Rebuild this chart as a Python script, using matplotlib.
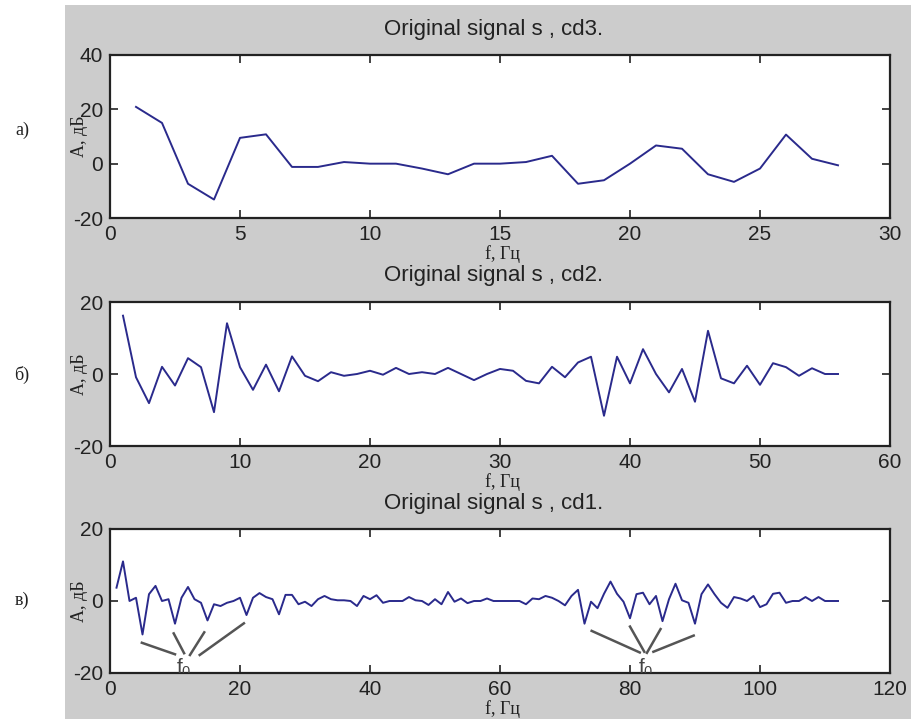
import numpy as np
import matplotlib
matplotlib.use("Agg")
import matplotlib.pyplot as plt
from matplotlib.patches import Rectangle

plt.rcParams['font.family'] = ['Liberation Sans', 'DejaVu Sans']
plt.rcParams['mathtext.fontset'] = 'custom'
plt.rcParams['mathtext.rm'] = 'Liberation Sans'
plt.rcParams['mathtext.default'] = 'regular'
plt.rcParams['axes.unicode_minus'] = False

# detail coefficients
cd3 = [20.9, 15.0, -7.4, -13.2, 9.5, 10.8, -1.2, -1.2, 0.6, 0.0,
       0.0, -1.8, -3.9, 0.0, 0.0, 0.6, 2.9, -7.4, -6.1, 0.0,
       6.7, 5.5, -3.9, -6.7, -1.8, 10.7, 1.8, -0.6]

cd2 = [16.2, -0.9, -8.1, 2.0, -3.2, 4.4, 1.9, -10.6, 14.1, 1.9,
       -4.4, 2.6, -4.8, 4.9, -0.5, -2.0, 0.5, -0.5, 0.0, 0.9,
       -0.2, 1.7, 0.0, 0.5, 0.0, 1.7, 0.0, -1.7, 0.0, 1.4,
       0.9, -1.9, -2.6, 2.0, -0.9, 3.2, 4.8, -11.6, 4.8, -2.6,
       6.9, 0.0, -5.1, 1.4, -7.7, 12.0, -1.2, -2.6, 2.3, -3.0,
       3.0, 1.9, -0.5, 1.6, 0.0, 0.0]

cd1 = [3.7, 11.0, 0.0, 0.9, -9.3, 1.9, 4.2, 0.0, 0.5, -6.3,
       0.9, 3.9, 0.5, -0.5, -5.4, -0.9, -1.4, -0.5, 0.0, 0.9,
       -3.9, 0.9, 2.2, 1.1, 0.5, -3.7, 1.7, 1.7, -0.9, -0.2,
       -1.4, 0.5, 1.4, 0.5, 0.2, 0.2, 0.0, -1.4, 1.4, 0.5,
       1.6, -0.5, 0.0, 0.0, 0.0, 1.1, 0.2, 0.0, -1.1, 0.5,
       -0.9, 2.5, -0.2, 0.7, -0.6, 0.0, 0.0, 0.7, 0.0, 0.0,
       0.0, 0.0, 0.0, -0.9, 0.7, 0.5, 1.4, 0.9, 0.0, -1.2,
       1.4, 3.1, -6.3, -0.2, -2.0, 2.0, 5.4, 2.0, -0.2, -4.8,
       1.9, 2.3, -0.9, 1.4, -5.6, 0.5, 4.8, 0.2, -0.5, -6.3,
       1.9, 4.6, 1.9, -0.5, -1.9, 1.1, 0.7, 0.0, 1.4, -1.7,
       -0.9, 2.0, 2.3, -0.5, 0.0, 0.0, 1.1, 0.0, 1.1, 0.0,
       0.0, 0.0]

titles = ['Original signal s , cd3.', 'Original signal s , cd2.', 'Original signal s , cd1.']
panel_tags = ['а)', 'б)', 'в)']
xlims = [30, 60, 120]
xsteps = [5, 10, 20]
ylims = [(-20, 40), (-20, 20), (-20, 20)]
yticks = [[-20, 0, 20, 40], [-20, 0, 20], [-20, 0, 20]]

# f0 pointer lines in panel 3: (x_start, y_start, x_end, y_end)
f0_left = [(4.9, -11.6, 10.0, -14.8), (9.8, -9.0, 11.4, -14.5),
           (14.5, -8.7, 12.3, -15.0), (20.6, -6.2, 13.8, -15.0)]
f0_right = [(74.1, -8.3, 81.5, -14.3), (80.0, -7.1, 82.2, -14.1),
            (84.7, -7.8, 82.6, -14.4), (89.8, -9.6, 83.6, -14.1)]
f0_text = [(11.3, -18.6), (82.4, -18.6)]

W, H = 912, 719
fig = plt.figure(figsize=(W / 100, H / 100), dpi=100, facecolor='white')
fig.patches.append(Rectangle((65 / W, 0), 1 - 65 / W, (H - 5) / H, transform=fig.transFigure,
                             facecolor='#cccccc', edgecolor='none', zorder=-10))

# axes boxes in pixels: top, bottom
boxes = [(55, 218), (302, 446), (529, 673)]
tag_y = [130, 375, 600]
data = [cd3, cd2, cd1]

for i, (top, bot) in enumerate(boxes):
    ax = fig.add_axes([110 / W, (H - bot) / H, 780 / W, (bot - top) / H])
    y = data[i]
    x = np.arange(1, len(y) + 1)
    ax.plot(x, y, color='#2a2a8c', lw=1.4)
    ax.set_xlim(0, xlims[i])
    ax.set_ylim(*ylims[i])
    ax.set_xticks(np.arange(0, xlims[i] + 1, xsteps[i]))
    ax.set_yticks(yticks[i])
    ax.tick_params(direction='in', length=6, width=1.2, top=True, right=True,
                   labelsize=15, colors='#222222', pad=5)
    for s in ax.spines.values():
        s.set_linewidth(1.6)
        s.set_color('#222222')
    ax.annotate(titles[i], xy=(0.5, 1), xycoords='axes fraction', xytext=(-6 * 0.72, 26 * 0.72),
                textcoords='offset points', ha='center', va='center', fontsize=16, color='#222222')
    ax.annotate('f, Гц', xy=(0.5, 0), xycoords='axes fraction', xytext=(2, -36 * 0.72),
                textcoords='offset points', ha='center', va='center', fontsize=13,
                family='Liberation Serif', color='#222222')
    ax.annotate('A, дБ', xy=(0, 0.5), xycoords='axes fraction', xytext=(-30 * 0.72, 0),
                textcoords='offset points', ha='center', va='center', fontsize=13,
                rotation=90, family='Liberation Serif', color='#222222')
    fig.text(22 / W, (H - tag_y[i]) / H, panel_tags[i], ha='center', va='center',
             fontsize=13, family='Liberation Serif', color='#222222')

    if i == 2:
        for seg in f0_left + f0_right:
            ax.plot([seg[0], seg[2]], [seg[1], seg[3]], color='#555555', lw=1.8)
        for tx, ty in f0_text:
            ax.text(tx, ty, 'f$_0$', ha='center', va='center', fontsize=15,
                    color='#444444', clip_on=True)

fig.savefig('out.png', dpi=100)
